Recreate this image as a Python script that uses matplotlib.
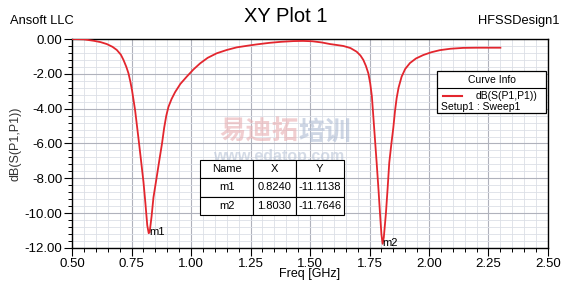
import numpy as np
import matplotlib.pyplot as plt
from matplotlib.patches import Rectangle
from matplotlib.ticker import MultipleLocator, FormatStrFormatter

plt.rcParams['font.family'] = ['Liberation Sans', 'Noto Sans CJK SC', 'DejaVu Sans']

# S11 sweep
freq = [0.50, 0.55, 0.59, 0.62, 0.646, 0.67, 0.688, 0.705, 0.716, 0.728, 0.737,
        0.745, 0.752, 0.765, 0.779, 0.790, 0.800, 0.808, 0.816, 0.822, 0.826,
        0.834, 0.842, 0.856, 0.868, 0.878, 0.887, 0.896, 0.905, 0.918, 0.933,
        0.955, 0.982, 1.01, 1.038, 1.07, 1.108, 1.15, 1.192, 1.24, 1.276, 1.33,
        1.38, 1.43, 1.47, 1.51, 1.55, 1.584, 1.61, 1.64, 1.67, 1.696, 1.712,
        1.724, 1.735, 1.745, 1.753, 1.760, 1.770, 1.780, 1.788, 1.794, 1.800,
        1.805, 1.810, 1.819, 1.826, 1.833, 1.842, 1.850, 1.857, 1.864, 1.872,
        1.885, 1.90, 1.92, 1.945, 1.976, 2.01, 2.046, 2.09, 2.144, 2.20, 2.25,
        2.30]
s11 = [0.00, -0.02, -0.10, -0.18, -0.29, -0.45, -0.63, -0.90, -1.20, -1.60, -1.97,
       -2.45, -2.95, -4.10, -5.70, -7.00, -8.20, -9.40, -10.70, -11.15, -11.10,
       -10.20, -9.10, -7.90, -6.85, -6.00, -5.10, -4.40, -3.90, -3.45, -3.05,
       -2.58, -2.16, -1.75, -1.40, -1.08, -0.82, -0.63, -0.48, -0.38, -0.31, -0.22,
       -0.16, -0.12, -0.11, -0.13, -0.20, -0.29, -0.34, -0.40, -0.52, -0.73, -0.95,
       -1.20, -1.55, -1.97, -2.55, -3.30, -5.20, -7.10, -8.70, -10.00, -11.20,
       -11.76, -11.40, -10.00, -8.60, -7.10, -6.00, -5.10, -4.15, -3.40, -2.80,
       -2.16, -1.72, -1.38, -1.12, -0.92, -0.76, -0.64, -0.56, -0.51, -0.50, -0.50,
       -0.50]

marker_names = ['m1', 'm2']
marker_x = [0.8240, 1.8030]
marker_y = [-11.1138, -11.7646]

fig = plt.figure(figsize=(5.72, 2.82), dpi=100)
ax = fig.add_axes([0.126, 0.1206, 0.832, 0.7411])

ax.plot(freq, s11, color='#e3262e', linewidth=1.3, zorder=3)

ax.set_xlim(0.5, 2.5)
ax.set_ylim(-12, 0)
ax.xaxis.set_major_locator(MultipleLocator(0.25))
ax.xaxis.set_minor_locator(MultipleLocator(0.05))
ax.yaxis.set_major_locator(MultipleLocator(2))
ax.yaxis.set_minor_locator(MultipleLocator(0.4))
ax.xaxis.set_major_formatter(FormatStrFormatter('%.2f'))
ax.yaxis.set_major_formatter(FormatStrFormatter('%.2f'))
ax.grid(True, which='major', color='#b0b2bc', linewidth=0.8)
ax.grid(True, which='minor', color='#dcdfe6', linewidth=0.6)
ax.set_axisbelow(True)
ax.tick_params(which='major', direction='out', length=6, width=0.8,
               labelsize=9.5, colors='black', pad=1)
ax.tick_params(which='minor', direction='out', length=3, width=0.7)
for sp in ax.spines.values():
    sp.set_linewidth(1.0)

ax.set_xlabel('Freq [GHz]', fontsize=9, labelpad=-1)
ax.set_ylabel('dB(S(P1,P1))', fontsize=9, color='#333333', labelpad=2)

# marker labels
for n, mx, my in zip(marker_names, marker_x, marker_y):
    ax.text(mx + 0.002, my + 0.05, n, fontsize=8, va='center', ha='left', zorder=4)

# watermark
ax.text(0.475, 0.555, '易迪拓', transform=ax.transAxes, fontsize=19, color='#e9aeb1',
        alpha=0.6, weight='bold', ha='right', va='center',
        family=['Noto Sans CJK SC', 'DejaVu Sans'], zorder=2)
ax.text(0.475, 0.555, '培训', transform=ax.transAxes, fontsize=19, color='#aebbd3',
        alpha=0.6, weight='bold', ha='left', va='center',
        family=['Noto Sans CJK SC', 'DejaVu Sans'], zorder=2)
ax.text(0.435, 0.44, 'www.edatop.com', transform=ax.transAxes, fontsize=11.5,
        color='#b8c3d6', alpha=0.6, weight='bold', ha='center', va='center', zorder=2)

# marker table
col_labels = ['Name', 'X', 'Y']
cells = [[n, '%.4f' % x, '%.4f' % y] for n, x, y in zip(marker_names, marker_x, marker_y)]
tbl = ax.table(cellText=cells, colLabels=col_labels, cellLoc='center',
               colWidths=[53, 43, 48], bbox=[0.269, 0.158, 0.302, 0.263], zorder=5)
tbl.auto_set_font_size(False)
tbl.set_fontsize(8)
for cell in tbl.get_celld().values():
    cell.set_edgecolor('black')
    cell.set_linewidth(0.8)
    cell.set_facecolor('white')

# curve info box
ax.add_patch(Rectangle((0.767, 0.646), 0.229, 0.201, transform=ax.transAxes,
                       facecolor='white', edgecolor='black', linewidth=0.9, zorder=5))
ax.plot([0.767, 0.996], [0.766, 0.766], transform=ax.transAxes, color='black',
        linewidth=0.8, zorder=6)
ax.text(0.8815, 0.806, 'Curve Info', transform=ax.transAxes, fontsize=7.5,
        ha='center', va='center', zorder=6)
ax.plot([0.78, 0.82], [0.726, 0.726], transform=ax.transAxes, color='#e3262e',
        linewidth=1.5, zorder=6)
ax.text(0.848, 0.726, 'dB(S(P1,P1))', transform=ax.transAxes, fontsize=7.5,
        ha='left', va='center', zorder=6)
ax.text(0.775, 0.675, 'Setup1 : Sweep1', transform=ax.transAxes, fontsize=7.5,
        ha='left', va='center', zorder=6)

fig.text(0.5, 0.94, 'XY Plot 1', fontsize=14.5, ha='center', va='center')
fig.text(0.017, 0.925, 'Ansoft LLC', fontsize=9.3, ha='left', va='center')
fig.text(0.978, 0.925, 'HFSSDesign1', fontsize=9.3, ha='right', va='center')

fig.savefig('out.png', dpi=100)
